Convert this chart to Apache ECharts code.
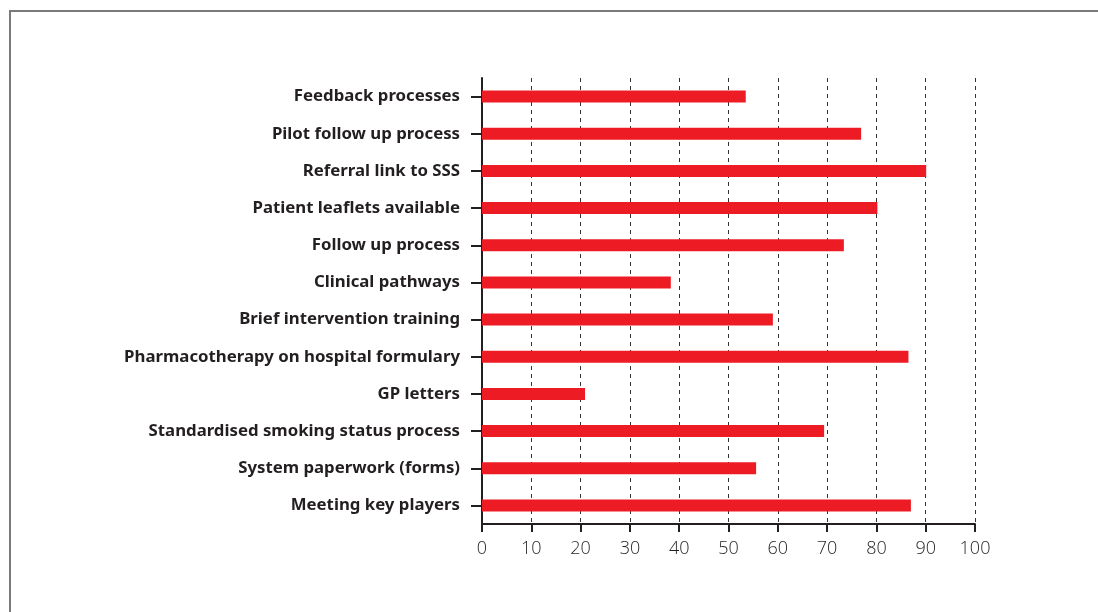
<!DOCTYPE html>
<html>
<head>
<meta charset="utf-8">
<script src="https://cdn.jsdelivr.net/npm/echarts@6/dist/echarts.min.js"></script>
<style>
html,body{margin:0;padding:0;background:#fff;}
#chart{width:1098px;height:612px;}
</style>
</head>
<body>
<div id="chart"></div>
<script>
var categories = [
  'Feedback processes',
  'Pilot follow up process',
  'Referral link to SSS',
  'Patient leaflets available',
  'Follow up process',
  'Clinical pathways',
  'Brief intervention training',
  'Pharmacotherapy on hospital formulary',
  'GP letters',
  'Standardised smoking status process',
  'System paperwork (forms)',
  'Meeting key players'
];
var values = [53.5, 76.9, 90.1, 80.2, 73.4, 38.3, 59.0, 86.5, 20.9, 69.4, 55.6, 87.0];
var xTicks = [0, 10, 20, 30, 40, 50, 60, 70, 80, 90, 100];

var chart = echarts.init(document.getElementById('chart'), null, {renderer: 'canvas'});
chart.setOption({
  animation: false,
  backgroundColor: '#ffffff',
  graphic: [{
    type: 'polyline',
    shape: {points: [[10, 612], [10, 11], [1098, 11]]},
    style: {stroke: '#7a7a7a', lineWidth: 2, fill: null},
    silent: true
  }],
  grid: {left: 482, right: 123, top: 78, bottom: 88, containLabel: false},
  xAxis: {
    type: 'value',
    min: xTicks[0],
    max: xTicks[xTicks.length - 1],
    interval: 10,
    axisLine: {show: true, lineStyle: {color: '#231f20', width: 2}},
    axisTick: {show: true, length: 8, lineStyle: {color: '#231f20', width: 2}},
    axisLabel: {
      color: '#231f20', fontSize: 18, fontFamily: 'Open Sans', fontWeight: 300, margin: 16
    },
    splitLine: {show: true, lineStyle: {color: '#333333', type: [4, 4], width: 1}}
  },
  yAxis: {
    type: 'category',
    data: categories,
    inverse: true,
    axisLine: {show: true, lineStyle: {color: '#231f20', width: 2}},
    axisTick: {show: true, alignWithLabel: true, length: 11, lineStyle: {color: '#231f20', width: 2}},
    axisLabel: {
      color: '#231f20', fontSize: 16.8, fontFamily: 'Noto Sans', fontWeight: 'bold', margin: 22
    },
    splitLine: {show: false}
  },
  series: [{
    type: 'bar',
    data: values,
    barWidth: 12,
    itemStyle: {color: '#ed1c24'},
    silent: true
  }]
});
</script>
</body>
</html>
